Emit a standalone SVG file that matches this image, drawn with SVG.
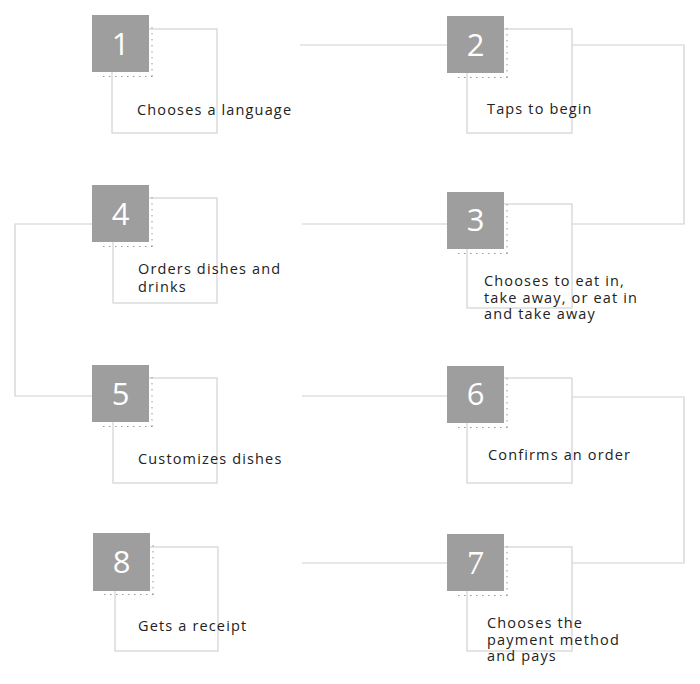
<svg xmlns="http://www.w3.org/2000/svg" width="700" height="684" viewBox="0 0 700 684">
<style>
.box{fill:#fff;stroke:#d2d2d2;stroke-width:1.2}
.sq{fill:#9e9e9e}
.num{font-family:"Open Sans","DejaVu Sans",sans-serif;font-weight:400;font-size:31px;fill:#fff;text-anchor:middle}
.numserif{font-family:"Liberation Serif",serif;font-size:34px;fill:#fff;text-anchor:middle}
.lbl{font-family:"Open Sans","DejaVu Sans",sans-serif;font-size:14.5px;fill:#222;letter-spacing:1.15px}
.dots{stroke:#999;stroke-width:1;stroke-dasharray:1.5 4.5;fill:none}
.conn{fill:none;stroke:#cfcfcf;stroke-width:1.2}
</style>
<rect width="700" height="684" fill="#fff"/>
<g id="connectors">
<path class="conn" d="M300 45 H447"/>
<path class="conn" d="M572 45 H684 V224 H572"/>
<path class="conn" d="M447 224 H302"/>
<path class="conn" d="M92 224 H15 V396 H92"/>
<path class="conn" d="M302 396 H447"/>
<path class="conn" d="M572 397 H684 V563 H572"/>
<path class="conn" d="M447 563 H302"/>
</g>
<g id="node1">
<rect class="box" x="112" y="29" width="105" height="104"/>
<rect class="sq" x="92" y="15" width="57" height="57"/>
<path class="dots" d="M152 27 V77 M103 76.5 H153"/>
<text class="num" x="120.5" y="55">1</text>
<text class="lbl" x="137" y="115">Chooses a language</text>
</g>
<g id="node2">
<rect class="box" x="467" y="29" width="105" height="104"/>
<rect class="sq" x="447" y="16" width="57" height="57"/>
<path class="dots" d="M507 28 V78 M458 77.5 H508"/>
<text class="num" x="475.5" y="56">2</text>
<text class="lbl" x="487" y="114">Taps to begin</text>
</g>
<g id="node3">
<rect class="box" x="467" y="204" width="105" height="104"/>
<rect class="sq" x="447" y="192" width="57" height="57"/>
<path class="dots" d="M507 204 V254 M458 253.5 H508"/>
<text class="num" x="475.5" y="231">3</text>
<text class="lbl" x="484" y="286">Chooses to eat in,</text>
<text class="lbl" x="484" y="303">take away, or eat in</text>
<text class="lbl" x="484" y="319">and take away</text>
</g>
<g id="node4">
<rect class="box" x="113" y="198" width="104" height="105"/>
<rect class="sq" x="92" y="185" width="57" height="57"/>
<path class="dots" d="M152 197 V247 M103 246.5 H153"/>
<text class="num" x="120.5" y="225">4</text>
<text class="lbl" x="138" y="274">Orders dishes and</text>
<text class="lbl" x="138" y="292">drinks</text>
</g>
<g id="node5">
<rect class="box" x="113" y="378" width="104" height="105"/>
<rect class="sq" x="92" y="365" width="57" height="57"/>
<path class="dots" d="M152 377 V427 M103 426.5 H153"/>
<text class="num" x="120.5" y="405">5</text>
<text class="lbl" x="138" y="464">Customizes dishes</text>
</g>
<g id="node6">
<rect class="box" x="467" y="378" width="105" height="105"/>
<rect class="sq" x="447" y="366" width="57" height="57"/>
<path class="dots" d="M507 378 V428 M458 427.5 H508"/>
<text class="num" x="475.5" y="405">6</text>
<text class="lbl" x="488" y="460">Confirms an order</text>
</g>
<g id="node7">
<rect class="box" x="467" y="547" width="105" height="104"/>
<rect class="sq" x="447" y="534" width="57" height="57"/>
<path class="dots" d="M507 546 V596 M458 595.5 H508"/>
<text class="numserif" x="475.5" y="574">7</text>
<text class="lbl" x="487" y="628">Chooses the</text>
<text class="lbl" x="487" y="645">payment method</text>
<text class="lbl" x="487" y="661">and pays</text>
</g>
<g id="node8">
<rect class="box" x="115" y="547" width="103" height="104"/>
<rect class="sq" x="93" y="533" width="57" height="58"/>
<path class="dots" d="M153 545 V595 M104 594.5 H154"/>
<text class="num" x="121.5" y="573">8</text>
<text class="lbl" x="138" y="631">Gets a receipt</text>
</g>
</svg>
